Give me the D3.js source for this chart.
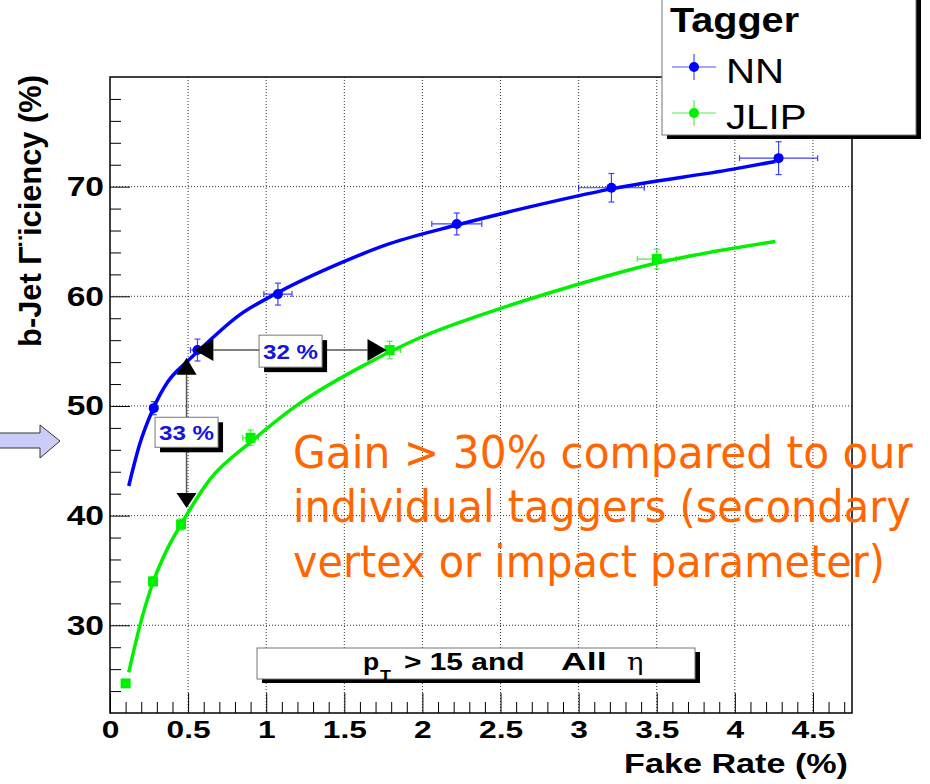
<!DOCTYPE html>
<html><head><meta charset="utf-8">
<script src="https://cdn.jsdelivr.net/npm/d3@7"></script>
<style>html,body{margin:0;padding:0;background:#fff;} svg{display:block;}</style>
</head><body>
<svg id="chart" width="930" height="784"></svg>
<script>
// b-tagging performance: efficiency versus light-jet fake rate for two taggers

// NN tagger measurements
const nnFake = [0.28, 0.56, 1.075, 2.22, 3.21, 4.28];
const nnEff = [49.8, 55.1, 60.2, 66.6, 69.9, 72.6];
const nnFakeErr = [0.02, 0.045, 0.09, 0.16, 0.21, 0.25];
const nnEffErr = [0.6, 1.0, 1.0, 1.0, 1.3, 1.5];

// JLIP tagger measurements
const jlipFake = [0.10, 0.275, 0.455, 0.90, 1.79, 3.50];
const jlipEff = [24.7, 34.0, 39.2, 47.1, 55.1, 63.4];
const jlipFakeErr = [0.02, 0.02, 0.02, 0.05, 0.07, 0.125];
const jlipEffErr = [0.3, 0.4, 0.5, 0.7, 0.8, 0.9];

// fitted curves through each tagger's points
const nnFitFake = [0.12, 0.19, 0.275, 0.37, 0.49, 0.58, 0.83, 1.07, 1.47, 1.79, 2.22, 2.7, 3.21, 3.99, 4.26];
const nnFitEff = [42.7, 46.5, 49.7, 52.2, 54.0, 55.2, 58.3, 60.3, 63.0, 64.8, 66.5, 68.2, 69.8, 71.6, 72.3];
const jlipFitFake = [0.12, 0.19, 0.275, 0.365, 0.455, 0.64, 0.90, 1.22, 1.65, 1.98, 2.5, 2.88, 3.52, 4.26];
const jlipFitEff = [25.7, 29.9, 33.9, 36.9, 39.2, 43.3, 46.7, 50.3, 53.9, 56.2, 58.9, 60.6, 63.1, 65.0];

// axes
const xTickValues = [0, 0.5, 1, 1.5, 2, 2.5, 3, 3.5, 4, 4.5];
const xTickLabels = ["0", "0.5", "1", "1.5", "2", "2.5", "3", "3.5", "4", "4.5"];
const yTickValues = [30, 40, 50, 60, 70];
const yTickLabels = ["30", "40", "50", "60", "70"];

// legend
const legendTitle = "Tagger";
const legendLabels = ["NN", "JLIP"];

// gain annotations
const gainFakeLevel = { eff: 55.1, from: 0.54, to: 1.77, label: "32 %", labelFake: 1.156, labelEff: 55.0 };
const gainEffLevel = { fake: 0.49, from: 54.4, to: 40.7, label: "33 %", labelFake: 0.49, labelEff: 47.6 };

// text
const yTitle = "b-Jet \u0393\u00A8iciency (%)";
const xTitle = "Fake Rate (%)";
const gainLines = ["Gain > 30% compared to our", "individual taggers (secondary", "vertex or impact parameter)"];

const svg = d3.select("#chart");
const F = "'Liberation Sans', Arial, Helvetica, sans-serif";
const BLUE = "#0000ff", GREEN = "#00f000";

const x = d3.scaleLinear().domain([0, 4.75]).range([110, 852]);
const y = d3.scaleLinear().domain([22, 80]).range([713, 77]);

function label(parent, px, py, str, size, opts = {}) {
  return parent.append("text")
    .attr("transform", `translate(${px},${py}) scale(${opts.sx || 1},1)`)
    .attr("font-family", opts.family || F)
    .attr("font-size", size)
    .attr("font-weight", opts.weight || "bold")
    .attr("text-anchor", opts.anchor || "start")
    .attr("fill", opts.fill || "#000")
    .text(str);
}

// grid
const grid = svg.append("g").attr("stroke", "#333").attr("stroke-width", 1).attr("stroke-dasharray", "1,2");
xTickValues.filter(v => v > 0).forEach(v => {
  grid.append("line").attr("x1", x(v)).attr("x2", x(v)).attr("y1", y(80)).attr("y2", y(22));
});
yTickValues.forEach(v => {
  grid.append("line").attr("x1", x(0)).attr("x2", x(4.75)).attr("y1", y(v)).attr("y2", y(v));
});

// x axis: minor and major ticks pointing inward
const xMinor = d3.range(0, 4.75, 0.1).map(v => +v.toFixed(1)).filter(v => Math.abs(v * 2 - Math.round(v * 2)) > 1e-6);
svg.append("g").attr("transform", `translate(0,${y(22)})`)
  .call(d3.axisBottom(x).tickValues(xMinor).tickSizeInner(-11).tickSizeOuter(0).tickFormat(""))
  .call(g => g.select(".domain").remove());
const xAx = svg.append("g").attr("transform", `translate(0,${y(22)})`)
  .call(d3.axisBottom(x).tickValues(xTickValues).tickSizeInner(-20).tickSizeOuter(0)
    .tickPadding(9).tickFormat((d, i) => xTickLabels[i]));
xAx.select(".domain").remove();
xAx.selectAll("text").attr("font-family", F).attr("font-size", 23).attr("font-weight", "bold")
  .attr("fill", "#000").attr("transform", "scale(1.38,1)");

// y axis
const yMinor = d3.range(24, 80, 2).filter(v => v % 10 !== 0);
svg.append("g").attr("transform", `translate(${x(0)},0)`)
  .call(d3.axisLeft(y).tickValues(yMinor).tickSizeInner(-11).tickSizeOuter(0).tickFormat(""))
  .call(g => g.select(".domain").remove());
const yAx = svg.append("g").attr("transform", `translate(${x(0)},0)`)
  .call(d3.axisLeft(y).tickValues(yTickValues).tickSizeInner(-20).tickSizeOuter(0)
    .tickPadding(5).tickFormat((d, i) => yTickLabels[i]));
yAx.select(".domain").remove();
yAx.selectAll("text").attr("font-family", F).attr("font-size", 28).attr("font-weight", "bold")
  .attr("fill", "#000").attr("transform", "scale(1.2,1)");

// frame
svg.append("rect").attr("x", x(0)).attr("y", y(80)).attr("width", x(4.75) - x(0)).attr("height", y(22) - y(80))
  .attr("fill", "none").attr("stroke", "#000").attr("stroke-width", 1.5);

// axis titles
label(svg, 848, 773, xTitle, 28, { anchor: "end", sx: 1.22 });
{
  const t = svg.append("text")
    .attr("font-family", F).attr("font-size", 31).attr("font-weight", "bold")
    .attr("text-anchor", "middle").text(yTitle);
  const s = 272 / t.node().getComputedTextLength();
  t.attr("transform", `translate(41,211) rotate(-90) scale(${s},1)`);
}

// fitted curves
const fitLine = d3.line().x(d => x(d[0])).y(d => y(d[1])).curve(d3.curveMonotoneX);
svg.append("path").datum(jlipFitFake.map((v, i) => [v, jlipFitEff[i]]))
  .attr("d", fitLine).attr("fill", "none").attr("stroke", GREEN).attr("stroke-width", 3.5);
svg.append("path").datum(nnFitFake.map((v, i) => [v, nnFitEff[i]]))
  .attr("d", fitLine).attr("fill", "none").attr("stroke", BLUE).attr("stroke-width", 3.5);

// measured points with error bars
function drawSeries(fx, fy, ex, ey, color, shape) {
  const g = svg.append("g");
  const cap = 3;
  fx.forEach((v, i) => {
    const cx = x(v), cy = y(fy[i]);
    const x0 = x(v - ex[i]), x1 = x(v + ex[i]);
    const y0 = y(fy[i] - ey[i]), y1 = y(fy[i] + ey[i]);
    const e = g.append("g").attr("stroke", color).attr("stroke-width", 1.2).attr("opacity", 0.75);
    e.append("line").attr("x1", x0).attr("x2", x1).attr("y1", cy).attr("y2", cy);
    e.append("line").attr("x1", cx).attr("x2", cx).attr("y1", y0).attr("y2", y1);
    e.append("line").attr("x1", cx - cap).attr("x2", cx + cap).attr("y1", y0).attr("y2", y0);
    e.append("line").attr("x1", cx - cap).attr("x2", cx + cap).attr("y1", y1).attr("y2", y1);
    e.append("line").attr("x1", x0).attr("x2", x0).attr("y1", cy - cap).attr("y2", cy + cap);
    e.append("line").attr("x1", x1).attr("x2", x1).attr("y1", cy - cap).attr("y2", cy + cap);
    if (shape === "circle") g.append("circle").attr("cx", cx).attr("cy", cy).attr("r", 5).attr("fill", color);
    else g.append("rect").attr("x", cx - 5).attr("y", cy - 5).attr("width", 10).attr("height", 10).attr("fill", color);
  });
}
drawSeries(jlipFake, jlipEff, jlipFakeErr, jlipEffErr, GREEN, "square");
drawSeries(nnFake, nnEff, nnFakeErr, nnEffErr, BLUE, "circle");

// gain arrows
const ann = svg.append("g");
function tri(points) {
  ann.append("path").attr("d", "M" + points.map(p => p.join(",")).join("L") + "Z").attr("fill", "#000");
}
{
  const yy = y(gainFakeLevel.eff), a = x(gainFakeLevel.from), b = x(gainFakeLevel.to);
  ann.append("line").attr("x1", a + 19).attr("x2", b - 19).attr("y1", yy).attr("y2", yy)
    .attr("stroke", "#555").attr("stroke-width", 1.5);
  tri([[a, yy], [a + 19, yy - 11], [a + 19, yy + 11]]);
  tri([[b, yy], [b - 19, yy - 11], [b - 19, yy + 11]]);
}
{
  const xx = x(gainEffLevel.fake), a = y(gainEffLevel.from), b = y(gainEffLevel.to);
  ann.append("line").attr("x1", xx).attr("x2", xx).attr("y1", a + 17).attr("y2", b - 15)
    .attr("stroke", "#555").attr("stroke-width", 1.5);
  tri([[xx, a], [xx - 10, a + 17], [xx + 10, a + 17]]);
  tri([[xx, b], [xx - 10, b - 15], [xx + 10, b - 15]]);
}
function boxLabel(cx, cy, w, h, str) {
  ann.append("rect").attr("x", cx - w / 2 + 5).attr("y", cy - h / 2 + 5).attr("width", w).attr("height", h).attr("fill", "#000");
  ann.append("rect").attr("x", cx - w / 2).attr("y", cy - h / 2).attr("width", w).attr("height", h)
    .attr("fill", "#fff").attr("stroke", "#777").attr("stroke-width", 1);
  label(ann, cx, cy + 7.5, str, 21, { anchor: "middle", sx: 1.15, fill: "#1414dc" });
}
boxLabel(x(gainFakeLevel.labelFake), y(gainFakeLevel.labelEff), 63, 32, gainFakeLevel.label);
boxLabel(x(gainEffLevel.labelFake), y(gainEffLevel.labelEff), 63, 30, gainEffLevel.label);

// selection box
{
  const g = svg.append("g");
  g.append("rect").attr("x", 262).attr("y", 652).attr("width", 438).attr("height", 31).attr("fill", "#000");
  g.append("rect").attr("x", 257).attr("y", 648).attr("width", 438).attr("height", 31)
    .attr("fill", "#fff").attr("stroke", "#777").attr("stroke-width", 1);
  label(g, 363, 670, "p", 23, { sx: 1.15 });
  label(g, 380, 680, "T", 15, { sx: 1.2 });
  label(g, 404, 670, "> 15 and", 23, { sx: 1.3 });
  label(g, 561, 670, "All", 23, { sx: 1.55 });
  label(g, 627, 670, "\u03B7", 25, { weight: "normal", family: "'DejaVu Serif', serif", sx: 1.1 });
}

// legend
{
  const g = svg.append("g");
  g.append("rect").attr("x", 667).attr("y", -5).attr("width", 254).attr("height", 144).attr("fill", "#000");
  g.append("rect").attr("x", 662).attr("y", -5).attr("width", 254).attr("height", 140)
    .attr("fill", "#fff").attr("stroke", "#777").attr("stroke-width", 1);
  label(g, 670, 32, legendTitle, 36, { sx: 1.1 });
  const colors = [BLUE, GREEN];
  const rows = [67, 113];
  legendLabels.forEach((t, i) => {
    const cy = rows[i], c = colors[i];
    g.append("line").attr("x1", 672).attr("x2", 716).attr("y1", cy).attr("y2", cy).attr("stroke", c).attr("stroke-width", 1.2).attr("opacity", 0.7);
    g.append("line").attr("x1", 694).attr("x2", 694).attr("y1", cy - 13).attr("y2", cy + 13).attr("stroke", c).attr("stroke-width", 1.2).attr("opacity", 0.7);
    g.append("circle").attr("cx", 694).attr("cy", cy).attr("r", 5).attr("fill", c);
    label(g, 726, cy + 16, t, 35, { weight: "normal", sx: 1.15 });
  });
}

// pointer arrow
svg.append("path")
  .attr("d", "M-2,433 L40,433 L40,425 L60,441 L40,458 L40,448 L-2,448 Z")
  .attr("fill", "#ccccf8").attr("stroke", "#333").attr("stroke-width", 1);

// gain text, each line squeezed horizontally to its set width
const gainBase = [468, 522, 577];
const gainWidth = [620, 618, 592];
gainLines.forEach((t, i) => {
  const el = svg.append("text")
    .attr("font-family", "'DejaVu Sans', Verdana, sans-serif").attr("font-size", 45)
    .attr("fill", "#ff6600").text(t);
  const s = gainWidth[i] / el.node().getComputedTextLength();
  el.attr("transform", `translate(293,${gainBase[i]}) scale(${s},1)`);
});
</script>
</body></html>
